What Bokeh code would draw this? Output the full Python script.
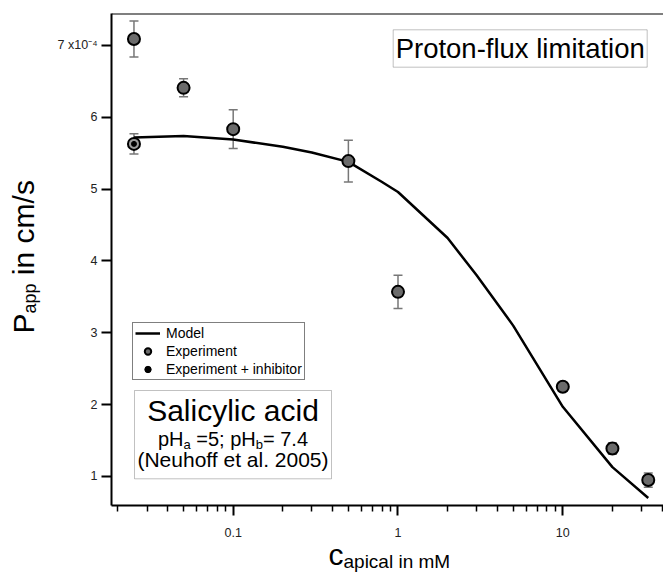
import math
from bokeh.plotting import figure
from bokeh.core.properties import value
from bokeh.models import (ColumnDataSource, Whisker, TeeHead, FixedTicker, CustomJSTickFormatter,
                          Legend, LegendItem, Label, BoxAnnotation, Span, Range1d)
from bokeh.embed import file_html
from bokeh.resources import INLINE

# ---------------- data (P_app in units of 1e-4 cm/s) ----------------
conc_exp = [0.025, 0.05, 0.1, 0.5, 1, 10, 20, 33]
papp_exp = [7.09, 6.41, 5.835, 5.39, 3.57, 2.25, 1.39, 0.95]
err_exp = [0.25, 0.125, 0.27, 0.29, 0.23, 0.04, 0.08, 0.10]

conc_inh = [0.025]
papp_inh = [5.63]
err_inh = [0.14]

conc_model = [0.025, 0.05, 0.1, 0.2, 0.3, 0.5, 0.8, 1, 2, 3, 5, 10, 20, 33]
papp_model = [5.72, 5.74, 5.69, 5.59, 5.51, 5.38, 5.10, 4.96, 4.32, 3.80, 3.10, 1.97, 1.13, 0.70]

x_major = [0.1, 1, 10]
x_minor = [0.02, 0.03, 0.04, 0.05, 0.06, 0.07, 0.08, 0.09,
           0.2, 0.3, 0.4, 0.5, 0.6, 0.7, 0.8, 0.9,
           2, 3, 4, 5, 6, 7, 8, 9, 20, 30, 40]
y_major = [1, 2, 3, 4, 5, 6, 7]

FONT = "Liberation Sans"

# Arial / Liberation Sans advance widths (em)
AW = {'p': .556, 'H': .722, 'a': .556, 'b': .556, ' ': .278, '=': .584, '5': .556, ';': .278,
      '7': .556, '.': .278, '4': .556, 'P': .667, 'c': .5}


def tw(s, size):
    return sum(AW.get(c, .556) for c in s) * size


MID = 0.3465  # distance from em-box middle to alphabetic baseline, in em

X0, X1 = 10 ** -1.7384, 10 ** 1.611
Y0, Y1 = 0.596, 7.445

# ---------------- figure ----------------
p = figure(width=663, height=572, x_axis_type="log",
           x_range=Range1d(X0, X1), y_range=Range1d(Y0, Y1),
           output_backend="svg", toolbar_location=None,
           min_border_left=111, min_border_right=0, min_border_top=13, min_border_bottom=67)
p.outline_line_color = None
p.grid.visible = False
p.background_fill_color = "white"
p.border_fill_color = "white"

xa = p.xaxis[0]
ya = p.yaxis[0]
xa.ticker = FixedTicker(ticks=x_major, minor_ticks=x_minor)
xa.formatter = CustomJSTickFormatter(code="return tick < 1 ? tick.toFixed(1) : tick.toFixed(0);")
ya.ticker = FixedTicker(ticks=y_major, minor_ticks=[])
ya.formatter = CustomJSTickFormatter(code="return tick == 7 ? '7 x10\u207b\u2074' : tick.toFixed(0);")
for ax in (xa, ya):
    ax.axis_line_width = 2
    ax.axis_line_color = "black"
    ax.major_tick_line_width = 2
    ax.major_tick_line_color = "black"
    ax.major_tick_out = 10
    ax.major_tick_in = 0
    ax.minor_tick_line_width = 1.5
    ax.minor_tick_line_color = "black"
    ax.minor_tick_out = 6
    ax.minor_tick_in = 0
    ax.major_label_text_font = FONT
    ax.major_label_text_font_size = "12.5px"
    ax.major_label_text_color = "#222222"
ya.major_label_standoff = 4
xa.major_label_standoff = 12

p.add_layout(Span(location=Y1, dimension="width", line_color="black", line_width=2))

# model line
model_r = p.line(conc_model, papp_model, line_color="black", line_width=2.5)

# error bars
src_exp = ColumnDataSource(dict(x=conc_exp, y=papp_exp,
                                lower=[v - e for v, e in zip(papp_exp, err_exp)],
                                upper=[v + e for v, e in zip(papp_exp, err_exp)]))
src_inh = ColumnDataSource(dict(x=conc_inh, y=papp_inh,
                                lower=[v - e for v, e in zip(papp_inh, err_inh)],
                                upper=[v + e for v, e in zip(papp_inh, err_inh)]))
for src in (src_exp, src_inh):
    w = Whisker(base="x", upper="upper", lower="lower", source=src, dimension="height",
                line_color="#777777", line_width=1.5, level="underlay",
                upper_head=TeeHead(size=9, line_color="#777777", line_width=1.5),
                lower_head=TeeHead(size=9, line_color="#777777", line_width=1.5))
    p.add_layout(w)

exp_r = p.scatter("x", "y", source=src_exp, size=12, fill_color="#6b6b6b",
                  line_color="black", line_width=2)
inh_r = p.scatter("x", "y", source=src_inh, size=12, fill_color="#9a9a9a",
                  line_color="black", line_width=2)
inh_dot = p.scatter("x", "y", source=src_inh, size=5, fill_color="black",
                    line_color="black", line_width=1)

legend = Legend(items=[LegendItem(label="Model", renderers=[model_r]),
                       LegendItem(label="Experiment", renderers=[exp_r]),
                       LegendItem(label="Experiment + inhibitor", renderers=[inh_dot])],
                location=(21, 125), border_line_color="black", border_line_width=1,
                background_fill_color="white", background_fill_alpha=1,
                label_text_font=FONT, label_text_font_size="14px", label_text_color="black",
                glyph_width=25, glyph_height=16, label_height=16, spacing=2, padding=2,
                label_standoff=6, margin=0)
p.add_layout(legend)


def box_text(text, x, baseline, size, align="center"):
    p.add_layout(Label(x=x, y=baseline + MID * size, x_units="screen", y_units="screen",
                       text=text, text_align=align, text_baseline="middle",
                       text_font=FONT, text_font_size=f"{size}px", text_color="black"))


# Proton-flux box
p.add_layout(BoxAnnotation(left=281.7, right=535.7, top=475.7, bottom=438.3,
                           left_units="screen", right_units="screen",
                           top_units="screen", bottom_units="screen",
                           fill_color="white", fill_alpha=1, line_color="#333333", line_width=1))
p.add_layout(Label(x=408.7, y=457, x_units="screen", y_units="screen",
                   text="Proton-flux limitation", text_align="center", text_baseline="middle",
                   text_font=FONT, text_font_size="27.5px", text_color="black"))

# Salicylic acid box
p.add_layout(BoxAnnotation(left=23, right=220, top=115, bottom=26.7,
                           left_units="screen", right_units="screen",
                           top_units="screen", bottom_units="screen",
                           fill_color="white", fill_alpha=1, line_color="#333333", line_width=1))
cx = 121.5
box_text("Salicylic acid", cx, 85, 30)
# (text, size, drop, leading gap in em of that size)
pieces = [("pH", 20, 0, 0), ("a", 13, 4, 0), ("=5; pH", 20, 0, .278), ("b", 13, 4, 0), ("= 7.4", 20, 0, 0)]
total = sum(tw(s, sz) + g * sz for s, sz, _, g in pieces)
xx = cx - total / 2
for s, sz, dy, g in pieces:
    xx += g * sz
    box_text(s, xx, 60 - dy, sz, align="left")
    xx += tw(s, sz)
box_text("(Neuhoff et al. 2005)", cx, 38.3, 21)

# ---------------- axis titles (text glyphs anchored at the frame corner, drawn unclipped) ----------
ang = math.pi / 2
# (text, size, baseline x in px from frame left, leading gap em)
ylab = [("P", 30, -78, 0), ("app", 18, -75, 0), ("in cm/s", 30, -78, .278)]
off = 0.0
for s, sz, bx, g in ylab:
    off += g * sz
    p.text(x=[X0], y=[Y0], text=[s], x_offset=bx - MID * sz, y_offset=-(172 + off), angle=ang,
           text_font=value(FONT), text_font_size=value(f"{sz}px"), text_color="black",
           text_align=value("left"), text_baseline=value("middle"), level="overlay")
    off += tw(s, sz)

# (text, size, baseline y in px below frame bottom)
xlab = [("c", 30, 59), ("apical in mM", 19, 62.5)]
off = 0.0
for s, sz, by in xlab:
    p.text(x=[X0], y=[Y0], text=[s], x_offset=217 + off, y_offset=by - MID * sz,
           text_font=value(FONT), text_font_size=value(f"{sz}px"), text_color="black",
           text_align=value("left"), text_baseline=value("middle"), level="overlay")
    off += tw(s, sz)

open("out.html", "w").write(file_html(p, INLINE))
